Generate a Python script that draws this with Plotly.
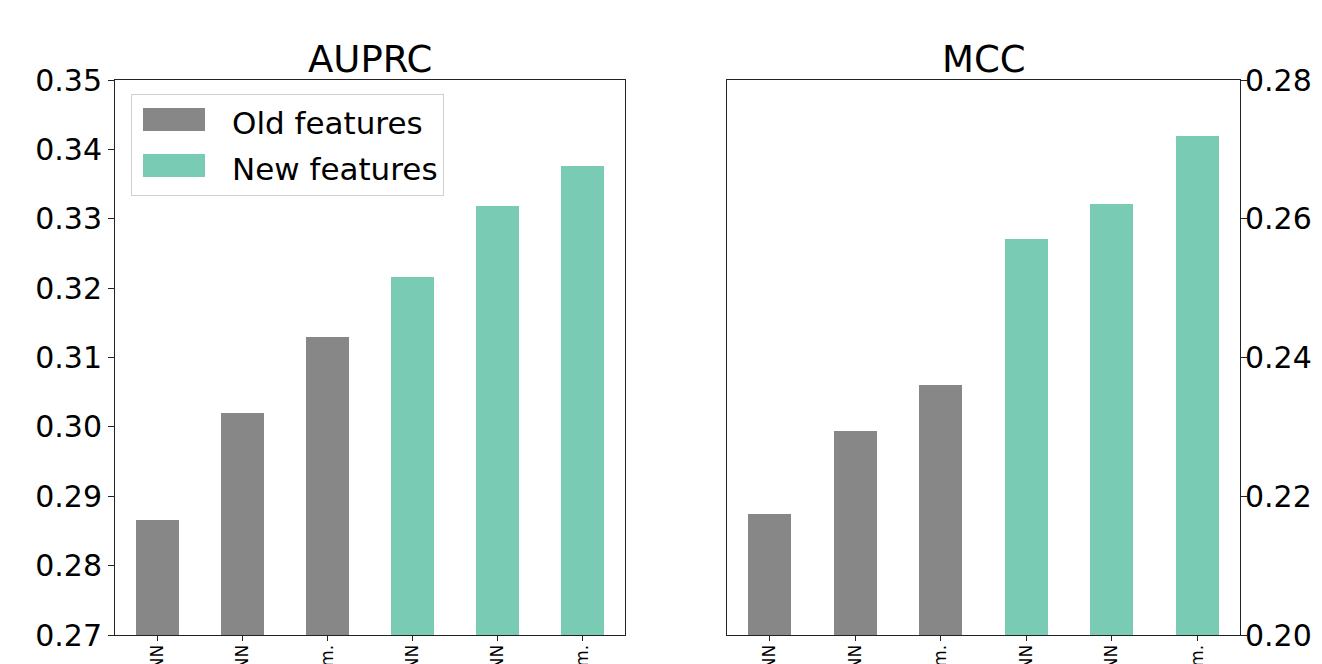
import plotly.graph_objects as go

categories = ["Old DNN", "Old CNN", "Old Ensem.", "New DNN", "New CNN", "New Ensem."]
old_cats = categories[:3]
new_cats = categories[3:]
auprc_old = [0.2866, 0.3020, 0.3130]
auprc_new = [0.3216, 0.3318, 0.3376]
mcc_old = [0.2174, 0.2294, 0.2360]
mcc_new = [0.2571, 0.2621, 0.2719]

GRAY = "#878787"
GREEN = "#79cbb4"
FONT = "DejaVu Sans"

fig = go.Figure()
fig.add_trace(go.Bar(x=old_cats, y=auprc_old, name="Old features", marker_color=GRAY,
                     width=0.5, xaxis="x", yaxis="y", base=0, legendgroup="old"))
fig.add_trace(go.Bar(x=new_cats, y=auprc_new, name="New features", marker_color=GREEN,
                     width=0.5, xaxis="x", yaxis="y", base=0, legendgroup="new"))
fig.add_trace(go.Bar(x=old_cats, y=mcc_old, name="Old features", marker_color=GRAY,
                     width=0.5, xaxis="x2", yaxis="y2", showlegend=False, base=0,
                     legendgroup="old"))
fig.add_trace(go.Bar(x=new_cats, y=mcc_new, name="New features", marker_color=GREEN,
                     width=0.5, xaxis="x2", yaxis="y2", showlegend=False, base=0,
                     legendgroup="new"))

for t in fig.data:
    t.marker.line.width = 0

axis_common = dict(showline=True, linecolor="#222", linewidth=1, mirror=True,
                   ticks="outside", tickcolor="#222", showgrid=False,
                   zeroline=False, automargin=False)

# page has an 8px body margin; figure is sized so the plot areas land where the reference has them
W_PLOT = 1125
H_PLOT = 555
TOP = 80  # screen y of plot top
LEFT = 115  # screen x of left plot


def px(x):
    return (x - LEFT) / W_PLOT


def py(y):
    return (TOP + H_PLOT - y) / H_PLOT


# wide legend swatches (matplotlib style) drawn behind the legend's small squares
swatches = [
    dict(type="rect", xref="paper", yref="paper", x0=px(143), x1=px(205),
         y0=py(131), y1=py(108), fillcolor=GRAY, line_width=0, layer="above"),
    dict(type="rect", xref="paper", yref="paper", x0=px(143), x1=px(205),
         y0=py(177), y1=py(154), fillcolor=GREEN, line_width=0, layer="above"),
]

fig.update_layout(
    width=1314, height=656,
    margin=dict(l=107, r=82, t=72, b=29),
    paper_bgcolor="white", plot_bgcolor="white",
    font=dict(family=FONT, color="black"),
    barmode="overlay",
    bargap=0,
    xaxis=dict(domain=[0, 510/W_PLOT], categoryorder="array", categoryarray=categories,
               range=[-0.5, 5.5], tickangle=-90, tickfont=dict(size=17), anchor="y",
               ticklen=5, ticklabelstandoff=-3, **axis_common),
    yaxis=dict(range=[0.27, 0.35], dtick=0.01, tickformat=".2f", tickfont=dict(size=30),
               anchor="x", ticklen=6, **axis_common),
    xaxis2=dict(domain=[612/W_PLOT, 1], categoryorder="array", categoryarray=categories,
                range=[-0.5, 5.5], tickangle=-90, tickfont=dict(size=17), anchor="y2",
                ticklen=5, ticklabelstandoff=-3, **axis_common),
    yaxis2=dict(range=[0.20, 0.28], dtick=0.02, tickformat=".2f", tickfont=dict(size=30),
                side="right", anchor="x2", ticklen=6, ticklabelstandoff=-8, **axis_common),
    legend=dict(x=px(131), y=py(94), xanchor="left", yanchor="top",
                bgcolor="rgba(255,255,255,0)", bordercolor="#d0d0d0", borderwidth=1,
                font=dict(size=31, family=FONT), tracegroupgap=3, itemwidth=90),
    shapes=swatches,
    annotations=[
        dict(text="AUPRC", x=255/W_PLOT, y=1, xref="paper", yref="paper",
             xanchor="center", yanchor="bottom", yshift=-3, showarrow=False,
             font=dict(size=37, family=FONT)),
        dict(text="MCC", x=(612+256.5)/W_PLOT, y=1, xref="paper", yref="paper",
             xanchor="center", yanchor="bottom", yshift=-3, showarrow=False,
             font=dict(size=37, family=FONT)),
    ],
)

fig.write_html("out.html")
